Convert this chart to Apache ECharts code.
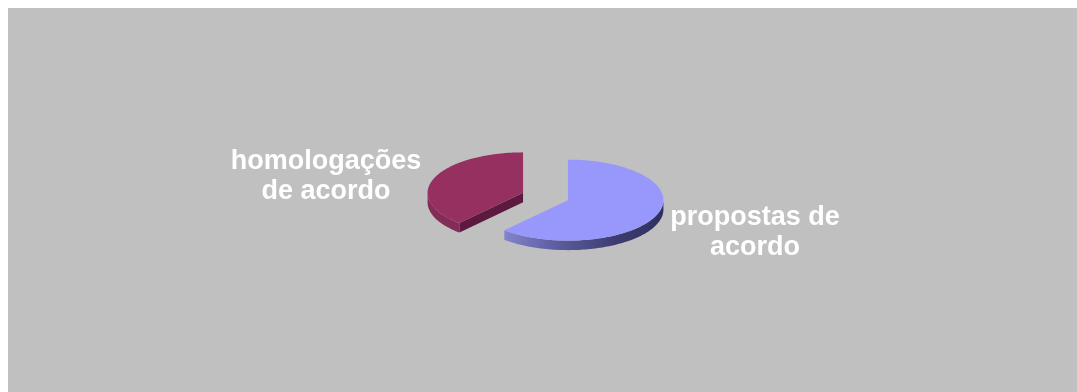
<!DOCTYPE html>
<html>
<head>
<meta charset="utf-8">
<style>html,body{margin:0;padding:0;background:#fff}#chart{width:1077px;height:392px}</style>
<script src="https://cdn.jsdelivr.net/npm/echarts@6/dist/echarts.min.js"></script>
</head>
<body>
<div id="chart"></div>
<script>
// Shares of agreements: proposals against homologations
const categories = ['propostas de\nacordo', 'homologações\nde acordo'];
const shares = [61.6, 38.4];
const topColors = ['#9797fc', '#953060'];

// Tilted pie geometry, in pixels
const CX = 545.5, CY = 196.5, RX = 95.5, RY = 40.5, DEPTH = 9.5, EXPLODE = 24;
const LABEL_POS = [[755, 232.5], [326, 176.5]];
const total = shares.reduce((a, b) => a + b, 0);

// Point on the tilted ellipse; angle in degrees clockwise from 12 o'clock
function rim(c, deg, dy) {
  const a = deg * Math.PI / 180;
  return [c[0] + RX * Math.sin(a), c[1] - RY * Math.cos(a) + (dy || 0)];
}
function arc(c, from, to, dy) {
  const pts = [];
  const n = Math.max(2, Math.ceil(Math.abs(to - from) / 1.5));
  for (let i = 0; i <= n; i++) pts.push(rim(c, from + (to - from) * i / n, dy));
  return pts;
}

function renderSlice(params, api) {
  const i = params.dataIndex;
  let start = 0;
  for (let k = 0; k < i; k++) start += shares[k] / total * 360;
  const end = start + api.value(0) / total * 360;
  const mid = (start + end) / 2 * Math.PI / 180;
  // Each slice is pulled out along its bisector
  const c = [CX + EXPLODE * Math.sin(mid), CY - EXPLODE * Math.cos(mid) * RY / RX];
  const children = [];

  if (i === 0) {
    // Outer wall visible from the right-most point round to the slice end
    const topEdge = arc(c, 90, end, 0);
    const lowEdge = arc(c, end, 90, DEPTH);
    children.push({
      type: 'polygon',
      shape: { points: topEdge.concat(lowEdge) },
      style: {
        fill: new echarts.graphic.LinearGradient(1, 0, 0, 0, [
          { offset: 0, color: '#30305f' },
          { offset: 0.3, color: '#3c3c70' },
          { offset: 0.7, color: '#5f5fa3' },
          { offset: 1, color: '#8484cc' }
        ])
      }
    });
  } else {
    // Outer wall and the exposed cut face
    const topEdge = arc(c, start, 270, 0);
    const lowEdge = arc(c, 270, start, DEPTH);
    children.push({
      type: 'polygon',
      shape: { points: topEdge.concat(lowEdge) },
      style: { fill: '#842c58' }
    });
    const tip = rim(c, start, 0);
    children.push({
      type: 'polygon',
      shape: { points: [c, tip, [tip[0], tip[1] + DEPTH], [c[0], c[1] + DEPTH]] },
      style: { fill: '#5c1a3e' }
    });
  }

  children.push({
    type: 'polygon',
    shape: { points: [c].concat(arc(c, start, end, 0)) },
    style: { fill: topColors[i] }
  });
  children.push({
    type: 'text',
    style: {
      x: LABEL_POS[i][0], y: LABEL_POS[i][1],
      text: categories[i],
      fill: '#ffffff',
      font: 'bold 27px "Liberation Sans", Arial, sans-serif',
      lineHeight: 30,
      align: 'center',
      verticalAlign: 'middle'
    }
  });
  return { type: 'group', children };
}

const chart = echarts.init(document.getElementById('chart'), null, { renderer: 'canvas' });
chart.setOption({
  animation: false,
  backgroundColor: '#ffffff',
  graphic: [{
    type: 'rect', z: -10, silent: true,
    shape: { x: 8, y: 8, width: 1069, height: 384 },
    style: { fill: '#c0c0c0' }
  }],
  series: [{
    type: 'custom',
    coordinateSystem: 'none',
    renderItem: renderSlice,
    data: shares.map((v, i) => ({ name: categories[i], value: [v] })),
    silent: true
  }]
});
</script>
</body>
</html>
